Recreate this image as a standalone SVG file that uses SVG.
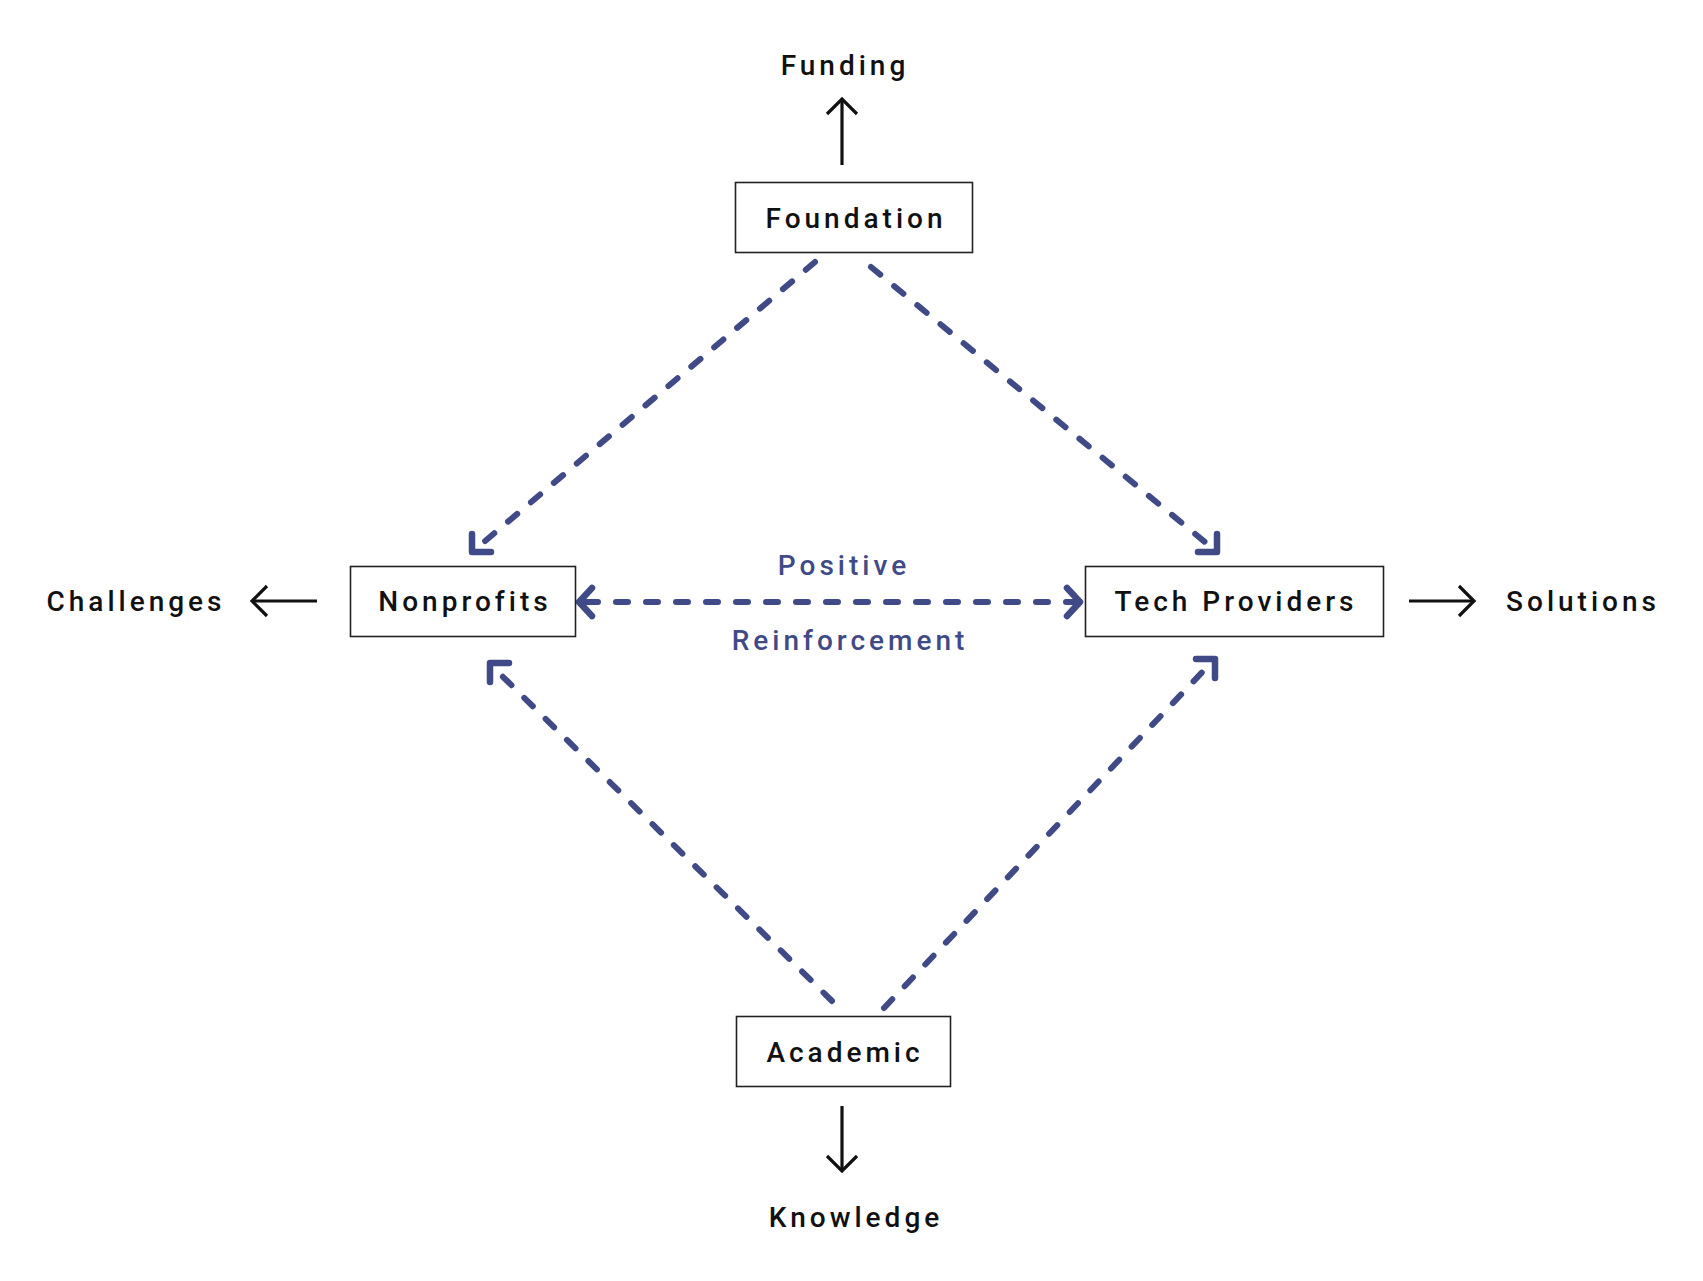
<svg xmlns="http://www.w3.org/2000/svg" width="1703" height="1281" viewBox="0 0 1703 1281">
<style>
.bg{fill:#ffffff}
.box{fill:#ffffff;stroke:#222222;stroke-width:1.6}
.lbl{font-family:Roboto,"Liberation Sans",sans-serif;font-size:28px;font-weight:500;letter-spacing:4px;fill:#111111;text-anchor:middle}
.blue{fill:#3f4a86}
.dash{fill:none;stroke:#3f4a86;stroke-width:6;stroke-linecap:round;stroke-dasharray:12 18}
.head{fill:none;stroke:#3f4a86;stroke-width:6.5;stroke-linecap:round;stroke-linejoin:round}
.out{fill:none;stroke:#111111;stroke-width:3.2;stroke-linecap:butt;stroke-linejoin:miter}
</style>
<rect class="bg" x="0" y="0" width="1703" height="1281"/>
<g id="connectors">
  <line class="dash" x1="815" y1="262" x2="478" y2="547"/>
  <polyline class="head" points="472,534 472,552 491,552"/>
  <line class="dash" x1="871" y1="267" x2="1211" y2="547"/>
  <polyline class="head" points="1217,534 1217,552 1198,552"/>
  <line class="dash" x1="832" y1="1001" x2="496" y2="670"/>
  <polyline class="head" points="490,682 490,663 509,663"/>
  <line class="dash" x1="884" y1="1008" x2="1209" y2="665"/>
  <polyline class="head" points="1215,678 1215,659 1196,659"/>
  <line class="dash" x1="586" y1="602" x2="1074" y2="602"/>
  <polyline class="head" points="592,588 579,602 592,616"/>
  <polyline class="head" points="1067,588 1080,602 1067,616"/>
  <g id="out-funding"><line class="out" x1="842" y1="165" x2="842" y2="100"/><polyline class="out" points="827,114 842,99 857,114"/></g>
  <g id="out-challenges"><line class="out" x1="317" y1="601" x2="253" y2="601"/><polyline class="out" points="267,586 252,601 267,616"/></g>
  <g id="out-solutions"><line class="out" x1="1409" y1="601" x2="1473" y2="601"/><polyline class="out" points="1459,586 1474,601 1459,616"/></g>
  <g id="out-knowledge"><line class="out" x1="842" y1="1106" x2="842" y2="1170"/><polyline class="out" points="827,1156 842,1171 857,1156"/></g>
</g>
<g id="node-foundation">
  <rect class="box" x="735.5" y="182.5" width="237" height="70"/>
  <text class="lbl" x="856" y="228">Foundation</text>
</g>
<g id="node-nonprofits">
  <rect class="box" x="350.5" y="566.5" width="225" height="70"/>
  <text class="lbl" x="465" y="611">Nonprofits</text>
</g>
<g id="node-tech">
  <rect class="box" x="1085.5" y="566.5" width="298" height="70"/>
  <text class="lbl" x="1236" y="611">Tech Providers</text>
</g>
<g id="node-academic">
  <rect class="box" x="736.5" y="1016.5" width="214" height="70"/>
  <text class="lbl" x="845" y="1062">Academic</text>
</g>
<g id="labels">
  <text class="lbl" x="845" y="75">Funding</text>
  <text class="lbl" x="136" y="611">Challenges</text>
  <text class="lbl" x="1583" y="611">Solutions</text>
  <text class="lbl" x="856" y="1227">Knowledge</text>
  <text class="lbl blue" x="844" y="575">Positive</text>
  <text class="lbl blue" x="850" y="650">Reinforcement</text>
</g>
</svg>
